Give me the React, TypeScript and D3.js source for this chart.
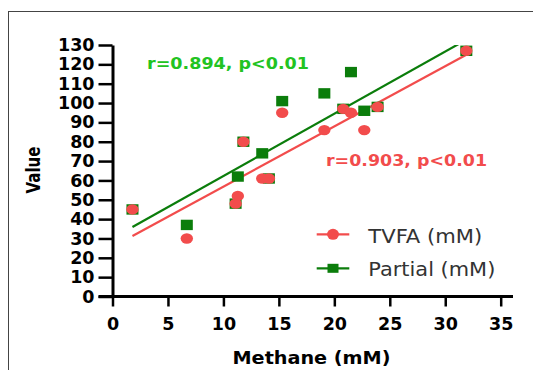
import React, { useEffect, useRef } from 'react';
import * as d3 from 'd3';

// methane (mM) for each sample, shared by both series
const methane = [1.8, 6.7, 11.1, 11.3, 11.8, 13.5, 14.1, 15.3, 19.1, 20.8, 21.5, 22.7, 23.9, 31.9];
const tvfa = [45, 30, 48, 52, 80, 61, 61, 95, 86, 97, 95, 86, 98, 127];
const partial = [45, 37, 48, 62, 80, 74, 61, 101, 105, 97, 116, 96, 98, 127];
const xTicks = [0, 5, 10, 15, 20, 25, 30, 35];
const yTicks = [0, 10, 20, 30, 40, 50, 60, 70, 80, 90, 100, 110, 120, 130];
const tvfaLabel = 'TVFA (mM)';
const partialLabel = 'Partial (mM)';
const tvfaStat = 'r=0.903, p<0.01';
const partialStat = 'r=0.894, p<0.01';

const RED = '#f24c4c';
const GREEN = '#0b7d0b';
const LIGHT_GREEN = '#22c322';
const FONT = '"DejaVu Sans", sans-serif';

function fit(xs: number[], ys: number[]) {
    const mx = d3.mean(xs) as number;
    const my = d3.mean(ys) as number;
    let sxy = 0, sxx = 0;
    xs.forEach((x, i) => {
        sxy += (x - mx) * (ys[i] - my);
        sxx += (x - mx) * (x - mx);
    });
    const slope = sxy / sxx;
    return { slope, intercept: my - slope * mx };
}

export default function App() {
    const ref = useRef<SVGSVGElement>(null);

    useEffect(() => {
        const svg = d3.select(ref.current);
        svg.selectAll('*').remove();

        const x = d3.scaleLinear().domain([0, 35]).range([112.5, 500.7]);
        const y = d3.scaleLinear().domain([0, 130]).range([296.5, 45]);

        // outer frame
        svg.append('rect')
            .attr('x', 8.5).attr('y', 11.5)
            .attr('width', 600).attr('height', 400)
            .attr('fill', 'none').attr('stroke', '#444').attr('stroke-width', 1);

        svg.append('clipPath').attr('id', 'plot')
            .append('rect')
            .attr('x', x(0)).attr('y', y(130))
            .attr('width', 420).attr('height', y(0) - y(130));

        // Y axis
        const yAxis = svg.append('g')
            .attr('transform', `translate(${x(0)},0)`)
            .call(d3.axisLeft(y).tickValues(yTicks).tickSize(14).tickSizeOuter(0).tickPadding(4));
        yAxis.select('.domain').attr('stroke-width', 3);
        yAxis.selectAll('.tick line').attr('stroke-width', 2.5);
        yAxis.selectAll('.tick text')
            .attr('font-family', FONT).attr('font-weight', 'bold').attr('font-size', 17.5).attr('fill', '#000');

        // X axis
        const xAxis = svg.append('g')
            .attr('transform', `translate(0,${y(0)})`)
            .call(d3.axisBottom(x).tickValues(xTicks).tickSize(10).tickSizeOuter(0).tickPadding(11));
        xAxis.select('.domain').remove();
        xAxis.append('line')
            .attr('x1', x(0) - 14).attr('x2', 513)
            .attr('stroke', '#000').attr('stroke-width', 3);
        xAxis.selectAll('.tick line').attr('stroke-width', 2.5);
        xAxis.selectAll('.tick text')
            .attr('font-family', FONT).attr('font-weight', 'bold').attr('font-size', 17.5).attr('fill', '#000');

        // axis titles
        svg.append('text')
            .attr('transform', 'translate(40,170) rotate(-90)')
            .attr('text-anchor', 'middle')
            .attr('font-family', FONT).attr('font-weight', 'bold').attr('font-size', 19)
            .attr('textLength', 47).attr('lengthAdjust', 'spacingAndGlyphs')
            .text('Value');
        svg.append('text')
            .attr('x', 311.5).attr('y', 363.5)
            .attr('text-anchor', 'middle')
            .attr('font-family', FONT).attr('font-weight', 'bold').attr('font-size', 18.5)
            .attr('textLength', 158).attr('lengthAdjust', 'spacingAndGlyphs')
            .text('Methane (mM)');

        // regression lines
        const lines = svg.append('g').attr('clip-path', 'url(#plot)');
        [{ ys: partial, color: GREEN }, { ys: tvfa, color: RED }].forEach(s => {
            const { slope, intercept } = fit(methane, s.ys);
            const x0 = d3.min(methane) as number;
            const x1 = d3.max(methane) as number;
            lines.append('line')
                .attr('x1', x(x0)).attr('y1', y(intercept + slope * x0))
                .attr('x2', x(x1)).attr('y2', y(intercept + slope * x1))
                .attr('stroke', s.color).attr('stroke-width', 2.2);
        });

        // Partial points (squares)
        svg.append('g')
            .selectAll('rect')
            .data(methane)
            .enter()
            .append('rect')
            .attr('x', d => x(d) - 6)
            .attr('y', (d, i) => y(partial[i]) - 5.2)
            .attr('width', 12).attr('height', 10.4)
            .attr('fill', GREEN);

        // TVFA points (circles)
        svg.append('g')
            .selectAll('ellipse')
            .data(methane)
            .enter()
            .append('ellipse')
            .attr('cx', d => x(d))
            .attr('cy', (d, i) => y(tvfa[i]))
            .attr('rx', 6.2).attr('ry', 5.2)
            .attr('fill', RED);

        // correlation labels
        svg.append('text')
            .attr('x', 147).attr('y', 68.5)
            .attr('font-family', FONT).attr('font-weight', 'bold').attr('font-size', 16.5)
            .attr('textLength', 162).attr('lengthAdjust', 'spacingAndGlyphs')
            .attr('fill', LIGHT_GREEN)
            .text(partialStat);
        svg.append('text')
            .attr('x', 326).attr('y', 166)
            .attr('font-family', FONT).attr('font-weight', 'bold').attr('font-size', 16.5)
            .attr('textLength', 161).attr('lengthAdjust', 'spacingAndGlyphs')
            .attr('fill', RED)
            .text(tvfaStat);

        // legend
        const legend = svg.append('g');
        legend.append('line')
            .attr('x1', 316.7).attr('x2', 349.3).attr('y1', 234.3).attr('y2', 234.3)
            .attr('stroke', RED).attr('stroke-width', 2.2);
        legend.append('ellipse')
            .attr('cx', 333).attr('cy', 234.3).attr('rx', 6).attr('ry', 5.5)
            .attr('fill', RED);
        legend.append('text')
            .attr('x', 368.3).attr('y', 242.7)
            .attr('font-family', FONT).attr('font-size', 19)
            .attr('textLength', 114).attr('lengthAdjust', 'spacingAndGlyphs')
            .attr('fill', '#333')
            .text(tvfaLabel);
        legend.append('line')
            .attr('x1', 316.7).attr('x2', 349.3).attr('y1', 268.3).attr('y2', 268.3)
            .attr('stroke', GREEN).attr('stroke-width', 2.2);
        legend.append('rect')
            .attr('x', 327.5).attr('y', 263.8).attr('width', 11).attr('height', 9)
            .attr('fill', GREEN);
        legend.append('text')
            .attr('x', 368.3).attr('y', 276)
            .attr('font-family', FONT).attr('font-size', 19)
            .attr('textLength', 127).attr('lengthAdjust', 'spacingAndGlyphs')
            .attr('fill', '#333')
            .text(partialLabel);
    }, []);

    return (
        <svg
            ref={ref}
            width={533}
            height={370}
            style={{ position: 'absolute', left: 0, top: 0, background: '#fff' }}
        />
    );
}
